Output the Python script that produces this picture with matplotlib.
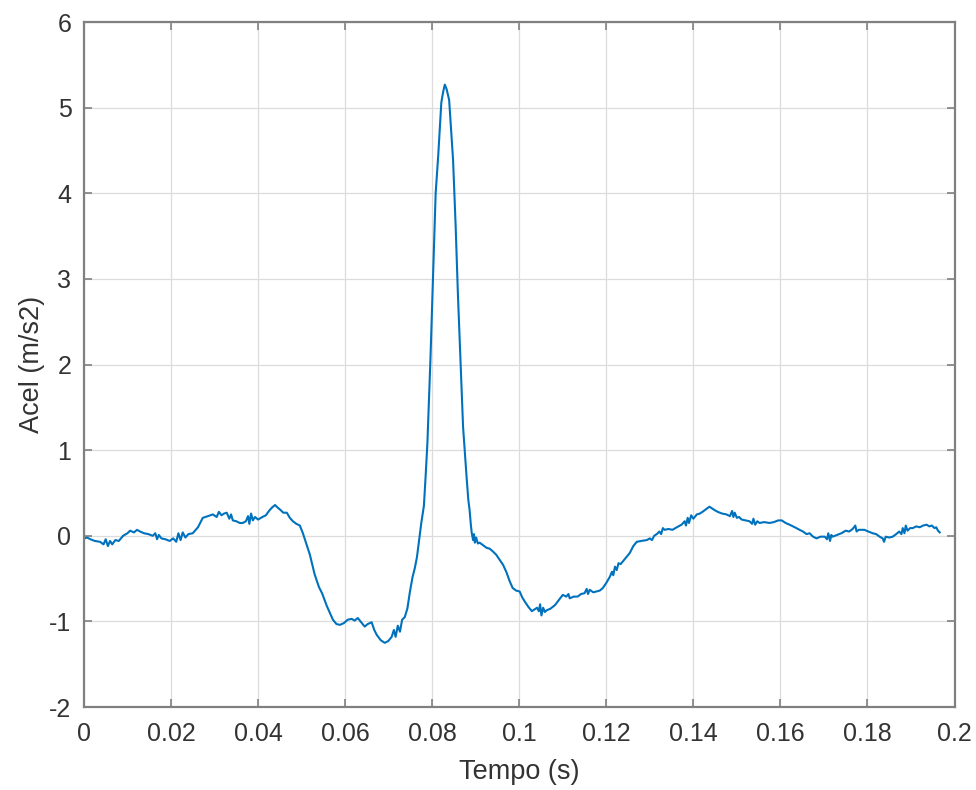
import numpy as np
import matplotlib
matplotlib.use('Agg')
import matplotlib.pyplot as plt

plt.rcParams['font.family'] = ['Liberation Sans', 'DejaVu Sans']
plt.rcParams['axes.unicode_minus'] = False

# Tempo (ms) e aceleracao (m/s2), por trechos
t_a = [0.0, 0.7, 1.5, 2.5, 3.7, 4.5, 5.0, 5.5, 6.0, 6.5,
       7.2, 8.0, 9.0, 10.0, 10.6, 11.5, 12.2, 12.9, 13.8, 14.8,
       15.8, 16.4, 16.8, 17.2, 17.8, 18.7, 19.7, 20.5, 21.2, 21.7,
       22.2, 22.7, 23.3, 24.0, 25.0, 26.2]
a_a = [-0.03, -0.02, -0.04, -0.06, -0.07, -0.10, -0.04, -0.12, -0.06, -0.10,
       -0.05, -0.06, 0.00, 0.03, 0.06, 0.04, 0.07, 0.05, 0.03, 0.02,
       0.00, 0.03, -0.04, 0.01, -0.03, -0.04, -0.06, -0.03, -0.07, 0.03,
       -0.05, 0.04, -0.02, 0.02, 0.03, 0.10]

t_b = [27.3, 28.5, 29.6, 30.5, 31.0, 31.6, 32.2, 32.8, 33.4, 33.8,
       34.2, 35.0, 35.8, 36.5, 37.2, 37.7, 38.0, 38.4, 38.8, 39.3,
       40.0, 41.0, 41.8, 42.5, 43.2, 43.9, 44.5, 45.2, 45.8, 46.6,
       47.3, 48.0, 48.8, 49.6, 50.3, 51.0, 51.9]
a_b = [0.21, 0.23, 0.25, 0.22, 0.28, 0.24, 0.26, 0.27, 0.20, 0.25,
       0.18, 0.17, 0.15, 0.15, 0.17, 0.23, 0.14, 0.26, 0.18, 0.22,
       0.19, 0.22, 0.24, 0.29, 0.33, 0.36, 0.33, 0.30, 0.27, 0.27,
       0.21, 0.17, 0.14, 0.12, 0.03, -0.08, -0.22]

t_c = [53.0, 54.0, 54.7, 55.3, 55.8, 56.5, 57.2, 58.0, 58.8, 59.7,
       60.6, 61.5, 62.2, 62.9, 63.7, 64.5, 65.2, 66.1, 66.7, 67.3,
       68.2, 69.1, 69.9, 70.7, 71.2, 71.6, 72.1, 72.6, 73.1, 73.7]
a_c = [-0.45, -0.60, -0.67, -0.75, -0.82, -0.90, -0.98, -1.03, -1.04, -1.02,
       -0.98, -0.97, -0.99, -0.96, -1.01, -1.06, -1.03, -1.01, -1.10, -1.16,
       -1.22, -1.25, -1.23, -1.18, -1.10, -1.18, -1.05, -1.12, -0.98, -0.95]

t_d = [74.3, 74.9, 75.5, 76.0, 76.5, 77.0, 77.5, 78.1, 78.5, 78.9,
       79.6, 80.2, 80.8, 81.4, 81.8, 82.1, 82.5, 82.9, 83.3, 83.9,
       84.8, 85.4, 85.9, 86.5, 87.1, 87.9, 88.3, 88.6, 88.9, 89.1]
a_d = [-0.85, -0.65, -0.48, -0.38, -0.25, -0.05, 0.15, 0.35, 0.70, 1.08,
       2.06, 3.03, 4.00, 4.45, 4.80, 5.06, 5.18, 5.27, 5.22, 5.09,
       4.39, 3.61, 2.84, 2.06, 1.27, 0.69, 0.42, 0.30, 0.12, 0.03]

t_e = [89.4, 89.6, 89.8, 90.1, 90.5, 90.9, 91.7, 92.5, 93.2, 93.9,
       94.7, 95.5, 96.3, 97.1, 97.8, 98.5, 99.3, 100.1, 100.7, 101.3,
       102.1, 102.9, 103.5, 104.1, 104.5, 104.8, 105.1, 105.5, 105.9, 106.3,
       107.2, 108.2, 109.1, 110.0, 110.8, 111.3, 111.6, 112.5, 113.4, 114.2,
       115.0, 115.5, 115.8, 116.2, 117.0, 117.8, 118.5, 119.2, 120.0, 120.8,
       121.3, 121.6, 122.0, 122.4, 122.8, 123.3, 123.8, 124.6, 125.4, 126.2,
       127.0, 128.0, 129.3, 130.0, 130.5, 131.0, 131.6, 132.2, 132.6, 133.0]
a_e = [-0.05, 0.02, -0.08, -0.02, -0.09, -0.08, -0.11, -0.14, -0.15, -0.18,
       -0.22, -0.28, -0.34, -0.43, -0.53, -0.61, -0.64, -0.65, -0.72, -0.77,
       -0.83, -0.88, -0.86, -0.84, -0.88, -0.80, -0.93, -0.84, -0.89, -0.87,
       -0.85, -0.81, -0.75, -0.69, -0.71, -0.68, -0.73, -0.71, -0.71, -0.68,
       -0.67, -0.62, -0.68, -0.63, -0.66, -0.65, -0.64, -0.61, -0.55, -0.48,
       -0.42, -0.46, -0.36, -0.40, -0.32, -0.33, -0.30, -0.25, -0.20, -0.12,
       -0.07, -0.06, -0.05, -0.03, -0.05, 0.00, 0.02, 0.05, 0.02, 0.09]

t_f = [133.4, 134.3, 135.2, 136.2, 137.3, 138.0, 138.3, 138.7, 139.0, 139.5,
       140.0, 140.8, 141.5, 142.1, 142.9, 143.7, 144.3, 144.9, 145.6, 146.6,
       147.6, 148.4, 148.9, 149.2, 149.5, 150.0, 150.5, 151.1, 152.0, 152.9,
       153.5, 153.8, 154.2, 154.7, 155.2, 156.3, 157.5, 158.5, 159.5, 160.3,
       161.2, 162.1, 163.3, 164.4, 165.2, 166.0, 166.7, 167.5, 168.3, 169.2]
a_f = [0.07, 0.08, 0.07, 0.10, 0.13, 0.17, 0.12, 0.21, 0.15, 0.24,
       0.20, 0.25, 0.26, 0.28, 0.31, 0.34, 0.32, 0.30, 0.28, 0.26,
       0.25, 0.23, 0.29, 0.22, 0.27, 0.21, 0.22, 0.19, 0.18, 0.17,
       0.14, 0.20, 0.13, 0.17, 0.15, 0.16, 0.15, 0.16, 0.18, 0.18,
       0.15, 0.13, 0.10, 0.07, 0.05, 0.02, 0.03, -0.01, -0.03, -0.01]

t_g = [170.2, 170.7, 171.0, 171.4, 171.7, 172.0, 173.0, 174.0, 175.0, 175.8,
       176.6, 177.2, 177.5, 178.0, 179.3, 180.2, 181.2, 182.0, 182.8, 183.5,
       183.8, 184.2, 185.0, 185.8, 186.6, 187.3, 187.8, 188.1, 188.5, 188.8,
       189.2, 189.8, 190.4, 191.2, 192.0, 192.8, 193.6, 194.2, 194.8, 195.4,
       195.8, 196.2, 196.6]
a_g = [-0.01, -0.04, 0.03, -0.06, 0.01, -0.01, 0.01, 0.03, 0.06, 0.05,
       0.08, 0.12, 0.05, 0.07, 0.07, 0.05, 0.03, 0.02, -0.01, -0.03,
       -0.07, -0.01, -0.02, -0.01, 0.02, 0.05, 0.02, 0.09, 0.03, 0.12,
       0.06, 0.09, 0.09, 0.11, 0.10, 0.12, 0.13, 0.11, 0.12, 0.09,
       0.10, 0.06, 0.04]

tempo = np.concatenate([t_a, t_b, t_c, t_d, t_e, t_f, t_g]) / 1000.0
acel = np.concatenate([a_a, a_b, a_c, a_d, a_e, a_f, a_g])

x_ticks = [0, 0.02, 0.04, 0.06, 0.08, 0.1, 0.12, 0.14, 0.16, 0.18, 0.2]
x_labels = ['0', '0.02', '0.04', '0.06', '0.08', '0.1', '0.12', '0.14', '0.16', '0.18', '0.2']
y_ticks = [-2, -1, 0, 1, 2, 3, 4, 5, 6]

fig = plt.figure(figsize=(9.76, 7.9), dpi=100)
ax = fig.add_axes([0.086, 0.105, 0.892, 0.867])

ax.plot(tempo, acel, color='#0072BD', lw=1.5)

ax.set_xlim(0, 0.2)
ax.set_ylim(-2, 6)
ax.set_xticks(x_ticks)
ax.set_xticklabels(x_labels)
ax.set_yticks(y_ticks)
ax.grid(True, color='#dcdcdc', lw=0.9)
ax.set_axisbelow(True)

for s in ax.spines.values():
    s.set_color('#808080')
    s.set_linewidth(1.6)
ax.tick_params(direction='in', length=6, width=1.2, color='#808080',
               top=True, right=True, labelsize=18, labelcolor='#333333')
ax.tick_params(axis='x', pad=11)
ax.tick_params(axis='y', pad=9)

ax.set_xlabel('Tempo (s)', fontsize=19.5, color='#333333', labelpad=9)
ax.set_ylabel('Acel (m/s2)', fontsize=19.5, color='#333333', labelpad=3)

fig.savefig('out.png', dpi=100)
